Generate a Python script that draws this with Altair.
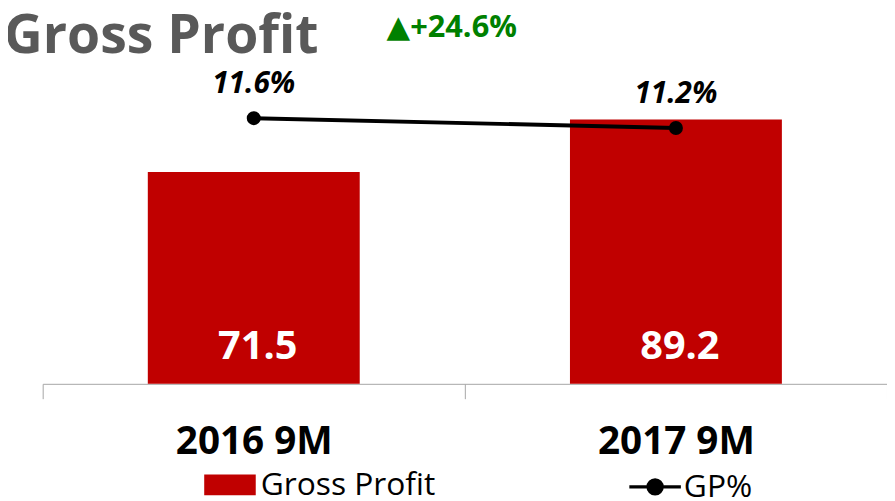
import altair as alt
import pandas as pd

# ---- data ----
categories = ["2016 9M", "2017 9M"]
gross_profit = [71.5, 89.2]
gp_pct = [11.6, 11.2]
bar_series_name = "Gross Profit"
line_series_name = "GP%"
title_text = "Gross Profit"
growth_text = "▲+24.6%"

df = pd.DataFrame({"period": categories, "gp": gross_profit, "pct": gp_pct})
df["bar_series"] = bar_series_name
df["line_series"] = line_series_name
df["pct_label"] = [f"{v:.1f}%" for v in gp_pct]
df["gp_label"] = [f"{v:.1f}" for v in gross_profit]

RED = "#C00000"
FONT = "Open Sans"
LEGEND_RECT = "M-1,-0.4L1,-0.4L1,0.4L-1,0.4Z"
LEGEND_LINE = "M-1,0L1,0M-0.27,0A0.27,0.27,0,1,1,0.27,0A0.27,0.27,0,1,1,-0.27,0Z"

x_enc = alt.X(
    "period:N",
    sort=categories,
    scale=alt.Scale(paddingInner=0, paddingOuter={"expr": "-0.004673"}, align=0),
    axis=alt.Axis(
        title=None, labelAngle=0, labelFont=FONT, labelFontSize=39,
        labelFontWeight="bold", labelColor="black",
        domainColor="#A6A6A6", tickColor="#A6A6A6", tickSize=15,
        tickBand="extent", labelPadding=24, grid=False,
    ),
)

y_bar = alt.Y("gp:Q", scale=alt.Scale(domain=[0, 100]), axis=None)
y_pct = alt.Y("pct:Q", scale=alt.Scale(domain=[0.84, 12.84], zero=False), axis=None)

base = alt.Chart(df)

bars = base.mark_bar(color=RED, width=alt.RelativeBandSize(0.502)).encode(
    x=x_enc,
    y=y_bar,
    color=alt.Color(
        "bar_series:N",
        scale=alt.Scale(domain=[bar_series_name], range=[RED]),
        legend=alt.Legend(
            title=None, orient="none", legendX=163, legendY=375,
            symbolType=LEGEND_RECT, symbolSize=2704, symbolStrokeWidth=0,
            labelFont=FONT, labelFontSize=32, labelColor="black",
            labelOffset=5, labelLimit=0, padding=0,
        ),
    ),
)

bar_text = base.mark_text(
    font=FONT, fontSize=40, fontWeight="bold", color="white",
    baseline="alphabetic", dy=-25, dx=4,
).encode(
    x=x_enc,
    y=alt.Y(datum=0, type="quantitative", scale=alt.Scale(domain=[0, 100]), axis=None),
    text="gp_label:N",
)

bar_group = alt.layer(bars, bar_text)

line = base.mark_line(strokeWidth=4).encode(
    x=x_enc,
    y=y_pct,
    stroke=alt.Stroke(
        "line_series:N",
        scale=alt.Scale(domain=[line_series_name], range=["black"]),
        legend=alt.Legend(
            title=None, orient="none", legendX=590, legendY=375,
            symbolType=LEGEND_LINE, symbolSize=2704, symbolStrokeWidth=3.5,
            symbolFillColor="black",
            labelFont=FONT, labelFontSize=32, labelColor="black",
            labelOffset=1, labelLimit=0, padding=0,
        ),
    ),
)

points = base.mark_circle(size=200, color="black", opacity=1).encode(x=x_enc, y=y_pct)

line_text = base.mark_text(
    font=FONT, fontSize=30, fontWeight="bold", fontStyle="italic",
    color="black", baseline="alphabetic", dy=-25,
).encode(x=x_enc, y=y_pct, text="pct_label:N")

line_group = alt.layer(line, points, line_text)

annotations = pd.DataFrame({"t": [title_text, growth_text]})

title_mark = alt.Chart(annotations).transform_filter(
    alt.datum.t == title_text
).mark_text(
    font=FONT, fontSize=54, fontWeight="bold", color="#595959",
    align="left", baseline="alphabetic",
).encode(x=alt.value(-39), y=alt.value(-35), text="t:N")

growth_mark = alt.Chart(annotations).transform_filter(
    alt.datum.t == growth_text
).mark_text(
    font="Open Sans, DejaVu Sans", fontSize=31, fontWeight="bold", color="#008000",
    align="left", baseline="alphabetic",
).encode(x=alt.value(347), y=alt.value(-51), text="t:N")

chart = (
    alt.layer(bar_group, line_group, title_mark, growth_mark)
    .resolve_scale(y="independent")
    .properties(
        width=852, height=299,
        autosize=alt.AutoSizeParams(type="none"),
        padding={"left": 35, "top": 78, "right": 0, "bottom": 116},
    )
    .configure_view(stroke=None)
)

chart.save("out.html", embed_options={"renderer": "svg", "actions": False})
